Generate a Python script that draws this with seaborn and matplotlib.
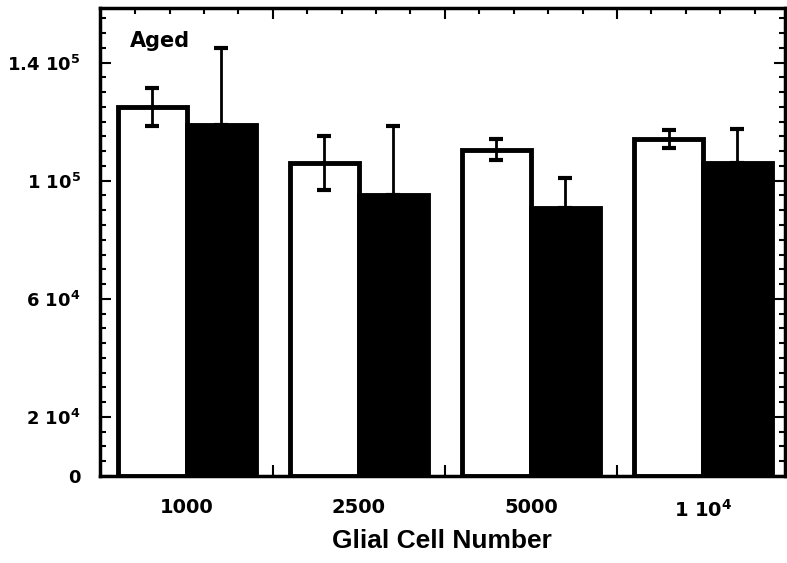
import numpy as np
import pandas as pd
import matplotlib
matplotlib.use("Agg")
import matplotlib.pyplot as plt
from matplotlib import font_manager
from matplotlib.ticker import MultipleLocator
import seaborn as sns

# Glial cell number per well and the two conditions
groups = ["1000", "2500", "5000", "1 $\\mathbf{10^4}$"]
conditions = ["Control", "Treated"]
control_mean = [125000, 106000, 110500, 114000]
control_err = [6500, 9000, 3500, 3000]
treated_mean = [119000, 95000, 90800, 106000]
treated_err = [26000, 23500, 10000, 11500]

ytick_vals = [0, 20000, 60000, 100000, 140000]
ytick_labels = ["0", "2 $\\mathbf{10^4}$", "6 $\\mathbf{10^4}$",
                "1 $\\mathbf{10^5}$", "1.4 $\\mathbf{10^5}$"]

df = pd.DataFrame({
    "group": groups * 2,
    "condition": [conditions[0]] * 4 + [conditions[1]] * 4,
    "value": control_mean + treated_mean,
})

sns.set_theme(style="white")
plt.rcParams["font.family"] = ["DejaVu Sans"]
plt.rcParams["font.weight"] = "bold"
plt.rcParams["mathtext.fontset"] = "dejavusans"
plt.rcParams["mathtext.default"] = "bf"
for key in ["text.color", "axes.labelcolor", "xtick.color", "ytick.color"]:
    plt.rcParams[key] = "black"

names = {f.name for f in font_manager.fontManager.ttflist}
narrow = "Liberation Sans Narrow" if "Liberation Sans Narrow" in names else "Liberation Sans"

fig = plt.figure(figsize=(7.87, 5.63), dpi=100)
ax = fig.add_axes([0.127, 0.1545, 0.870, 0.8315])

sns.barplot(data=df, x="group", y="value", hue="condition", order=groups,
            hue_order=conditions, palette=["white", "black"], width=0.8,
            edgecolor="black", linewidth=3.5, legend=False, ax=ax, errorbar=None)

# error bars: two-sided on open bars, upper only on filled bars
patches = ax.patches
for i in range(4):
    p = patches[i]
    cx = p.get_x() + p.get_width() / 2
    ax.errorbar(cx, control_mean[i], yerr=control_err[i], fmt="none",
                ecolor="black", elinewidth=2, capsize=5, capthick=3, zorder=5)
for i in range(4):
    p = patches[4 + i]
    cx = p.get_x() + p.get_width() / 2
    ax.errorbar(cx, treated_mean[i], yerr=[[0], [treated_err[i]]], fmt="none",
                ecolor="black", elinewidth=2, capsize=5, capthick=3, zorder=5)

ax.set_xlim(-0.505, 3.475)
ax.set_ylim(0, 158500)
ax.set_yticks(ytick_vals)
ax.set_yticklabels(ytick_labels)
ax.yaxis.set_minor_locator(MultipleLocator(5000))
ax.set_xticks([0.5, 1.5, 2.5], minor=False)
ax.set_xticks(np.arange(-0.3, 3.5, 0.2), minor=True)

# group labels placed under each pair of bars
ax.set_xticklabels([])
for i, g in enumerate(groups):
    ax.text(i, -0.048, g, transform=ax.get_xaxis_transform(), ha="center",
            va="top", fontsize=14, fontweight="bold")

ax.tick_params(axis="both", which="both", direction="in", top=True, right=True,
               bottom=True, left=True, width=1.5, color="black")
ax.tick_params(axis="both", which="major", length=8)
ax.tick_params(axis="both", which="minor", length=4)
ax.tick_params(axis="y", which="major", labelsize=13, pad=14)

for s in ax.spines.values():
    s.set_color("black")
    s.set_linewidth(2.5)

ax.set_xlabel("Glial Cell Number", fontsize=19, fontweight="bold",
              family=[narrow, "DejaVu Sans"], labelpad=35)
ax.set_ylabel("")
ax.text(0.044, 0.93, "Aged", transform=ax.transAxes, fontsize=15,
        fontweight="bold", ha="left", va="center")

fig.savefig("out.png", dpi=100)
